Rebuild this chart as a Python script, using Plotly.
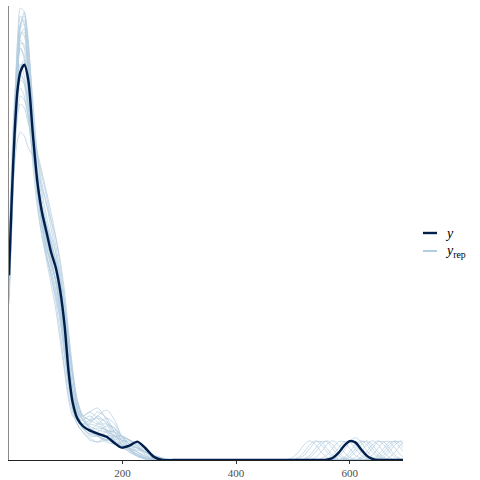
import plotly.graph_objects as go

# ---------------- data ----------------
x_main = [0, 5, 10, 15, 20, 27, 34, 42, 50, 58, 66, 74, 82, 90, 98, 105, 112,
          120, 130, 142, 156, 172, 186, 198, 212, 226, 240, 255, 270, 290, 310]
x_far = [480, 490, 500, 510, 520, 530, 540, 550, 560, 570, 580, 590, 600,
         610, 620, 630, 640, 650, 660, 670, 680, 690, 700]

y_main = [4.62, 6.6, 8.2, 9.25, 9.7, 9.88, 9.5, 8.15, 6.95, 6.2, 5.7, 5.2, 4.83,
          4.25, 3.35, 2.2, 1.45, 1.05, 0.85, 0.74, 0.66, 0.58, 0.42, 0.31, 0.36,
          0.46, 0.3, 0.08, 0.0, 0.0, 0.0]
y_far = [0, 0, 0, 0, 0, 0, 0, 0, 0.01, 0.05, 0.17, 0.35, 0.47, 0.44, 0.27,
         0.11, 0.03, 0, 0, 0, 0, 0, 0]

yrep_main = [
    [4.4, 6.7, 8.8, 10.5, 11.3, 11.2, 10.2, 8.4, 6.9, 6.0, 5.5, 5.0, 4.5, 3.8, 2.9, 2.0, 1.3, 0.9, 0.7, 0.55, 0.45, 0.6, 0.75, 0.6, 0.3, 0.15, 0.05, 0, 0, 0, 0],
    [4.4, 6.4, 8.3, 9.9, 10.8, 10.9, 10.0, 8.3, 6.8, 5.9, 5.3, 4.9, 4.5, 4.0, 3.2, 2.3, 1.5, 1.0, 0.8, 0.9, 1.1, 0.9, 0.5, 0.3, 0.3, 0.2, 0.05, 0, 0, 0, 0],
    [4.8, 6.4, 7.4, 8.0, 8.2, 8.1, 7.8, 7.6, 7.2, 6.8, 6.4, 6.0, 5.6, 5.0, 4.2, 3.2, 2.3, 1.5, 1.0, 0.8, 0.6, 0.5, 0.55, 0.6, 0.5, 0.3, 0.12, 0.02, 0, 0, 0],
    [4.5, 6.8, 8.6, 9.8, 10.3, 10.1, 9.2, 7.9, 6.7, 6.0, 5.6, 5.3, 4.9, 4.2, 3.3, 2.4, 1.6, 1.1, 0.9, 1.0, 1.2, 1.05, 0.7, 0.4, 0.25, 0.15, 0.05, 0, 0, 0, 0],
    [4.3, 6.3, 8.2, 9.7, 10.6, 10.7, 9.8, 7.9, 6.5, 5.6, 5.0, 4.4, 3.8, 3.0, 2.2, 1.5, 1.1, 1.0, 1.0, 1.1, 0.95, 0.7, 0.45, 0.35, 0.35, 0.3, 0.2, 0.12, 0.05, 0.01, 0],
    [5.0, 7.2, 8.8, 9.6, 9.9, 9.6, 8.9, 7.8, 6.9, 6.3, 5.9, 5.4, 4.8, 4.0, 3.1, 2.3, 1.6, 1.2, 1.0, 0.8, 0.6, 0.45, 0.4, 0.45, 0.5, 0.4, 0.2, 0.05, 0, 0, 0],
    [4.0, 6.0, 8.0, 9.6, 10.9, 11.0, 10.3, 9.0, 7.6, 6.7, 6.1, 5.6, 5.2, 4.6, 3.9, 3.0, 2.1, 1.3, 0.8, 0.6, 0.6, 0.7, 0.7, 0.5, 0.3, 0.1, 0.02, 0, 0, 0, 0],
    [4.6, 6.6, 8.1, 9.2, 9.6, 9.5, 8.9, 8.4, 7.6, 6.9, 6.4, 5.8, 5.2, 4.5, 3.7, 2.9, 2.1, 1.4, 1.1, 1.2, 1.3, 1.0, 0.6, 0.35, 0.2, 0.1, 0.05, 0.01, 0, 0, 0],
    [4.0, 5.9, 7.8, 9.4, 10.6, 10.8, 9.8, 8.1, 6.7, 5.8, 5.1, 4.6, 4.0, 3.2, 2.3, 1.6, 1.2, 0.9, 0.7, 0.5, 0.45, 0.5, 0.6, 0.6, 0.5, 0.35, 0.2, 0.08, 0.02, 0, 0],
    [4.9, 7.0, 8.4, 9.1, 9.3, 9.1, 8.5, 7.6, 6.8, 6.2, 5.8, 5.4, 5.0, 4.4, 3.5, 2.6, 1.8, 1.3, 1.0, 0.85, 0.75, 0.7, 0.6, 0.45, 0.25, 0.1, 0.03, 0, 0, 0, 0],
    [4.5, 6.6, 8.5, 10.0, 10.9, 11.1, 10.4, 8.8, 7.2, 6.1, 5.4, 4.8, 4.3, 3.6, 2.8, 2.1, 1.5, 1.1, 0.9, 0.9, 0.85, 0.75, 0.7, 0.6, 0.5, 0.35, 0.2, 0.08, 0.02, 0, 0],
    [4.4, 6.2, 7.8, 9.0, 9.8, 10.0, 9.5, 8.4, 7.3, 6.5, 5.9, 5.3, 4.7, 4.0, 3.2, 2.5, 1.8, 1.3, 1.0, 0.95, 1.1, 1.25, 1.0, 0.6, 0.3, 0.12, 0.04, 0, 0, 0, 0],
    [5.4, 7.6, 9.1, 10.0, 10.3, 10.0, 9.0, 7.4, 6.3, 5.6, 5.1, 4.7, 4.2, 3.5, 2.6, 1.9, 1.4, 1.1, 0.9, 0.75, 0.65, 0.55, 0.45, 0.3, 0.25, 0.25, 0.2, 0.1, 0.03, 0, 0],
    [4.1, 6.1, 8.0, 9.5, 10.4, 10.4, 9.6, 8.3, 7.1, 6.3, 5.8, 5.4, 5.0, 4.4, 3.5, 2.6, 1.8, 1.2, 0.85, 0.7, 0.6, 0.5, 0.5, 0.55, 0.5, 0.35, 0.15, 0.04, 0, 0, 0],
    [4.6, 6.4, 7.8, 8.7, 9.1, 9.0, 8.6, 8.2, 7.7, 7.2, 6.7, 6.2, 5.6, 4.9, 4.0, 3.1, 2.2, 1.5, 1.1, 1.0, 0.9, 0.9, 0.8, 0.5, 0.25, 0.1, 0.03, 0, 0, 0, 0],
    [4.5, 6.7, 8.8, 10.4, 11.1, 10.9, 9.8, 8.2, 6.8, 5.9, 5.3, 4.9, 4.5, 3.9, 3.0, 2.2, 1.5, 1.0, 0.8, 0.75, 0.9, 1.05, 0.9, 0.6, 0.4, 0.3, 0.2, 0.1, 0.03, 0, 0],
    [4.3, 6.2, 7.9, 9.0, 9.5, 9.4, 8.8, 7.9, 7.0, 6.3, 5.8, 5.3, 4.8, 4.2, 3.5, 2.8, 2.1, 1.5, 1.1, 0.8, 0.6, 0.5, 0.45, 0.4, 0.3, 0.2, 0.1, 0.03, 0, 0, 0],
    [4.2, 6.2, 8.2, 9.9, 10.7, 10.6, 9.7, 8.3, 7.0, 6.1, 5.5, 5.0, 4.5, 3.8, 2.9, 2.1, 1.5, 1.2, 1.1, 1.2, 1.05, 0.75, 0.5, 0.35, 0.3, 0.3, 0.2, 0.08, 0.01, 0, 0],
    [5.1, 7.0, 8.5, 9.4, 9.7, 9.4, 8.6, 7.6, 6.8, 6.3, 5.9, 5.5, 5.0, 4.3, 3.3, 2.4, 1.6, 1.1, 0.8, 0.65, 0.7, 0.85, 0.8, 0.6, 0.4, 0.2, 0.08, 0.02, 0, 0, 0],
    [4.2, 6.3, 8.3, 9.9, 10.5, 10.3, 9.4, 8.1, 7.0, 6.3, 5.7, 5.1, 4.5, 3.7, 2.8, 2.0, 1.4, 1.0, 0.8, 0.75, 0.8, 0.75, 0.6, 0.5, 0.45, 0.4, 0.25, 0.1, 0.02, 0, 0],
    [4.1, 6.0, 7.6, 8.6, 8.9, 8.8, 8.4, 8.1, 7.6, 7.1, 6.6, 6.0, 5.4, 4.7, 3.8, 2.9, 2.1, 1.4, 1.1, 1.0, 1.05, 0.95, 0.7, 0.4, 0.2, 0.1, 0.05, 0.01, 0, 0, 0],
    [3.9, 5.8, 7.7, 9.3, 10.8, 11.2, 10.5, 8.5, 6.9, 5.9, 5.2, 4.6, 4.1, 3.5, 2.6, 1.8, 1.3, 1.0, 0.8, 0.65, 0.6, 0.6, 0.6, 0.5, 0.4, 0.3, 0.2, 0.12, 0.05, 0.01, 0],
]

yrep_far = [
    [0, 0, 0.01, 0.065, 0.2, 0.385, 0.48, 0.385, 0.2, 0.065, 0.01, 0, 0, 0, 0, 0, 0, 0, 0, 0, 0, 0, 0],
    [0, 0, 0, 0, 0, 0, 0, 0, 0, 0, 0, 0.03, 0.12, 0.29, 0.455, 0.455, 0.29, 0.12, 0.03, 0, 0, 0, 0],
    [0, 0, 0, 0, 0, 0, 0, 0, 0, 0, 0, 0, 0, 0, 0, 0, 0, 0.01, 0.065, 0.2, 0.385, 0.48, 0.385],
    [0, 0, 0, 0, 0, 0.01, 0.065, 0.2, 0.385, 0.48, 0.385, 0.2, 0.065, 0.01, 0, 0, 0, 0, 0, 0, 0, 0, 0],
    [0, 0, 0, 0, 0, 0, 0, 0, 0, 0, 0, 0, 0, 0, 0.03, 0.12, 0.29, 0.455, 0.455, 0.29, 0.12, 0.03, 0],
    [0, 0, 0, 0, 0, 0, 0, 0, 0.03, 0.12, 0.29, 0.455, 0.455, 0.29, 0.12, 0.03, 0, 0, 0, 0, 0, 0, 0],
    [0, 0, 0, 0, 0, 0, 0, 0, 0, 0, 0, 0, 0, 0, 0, 0, 0.01, 0.065, 0.2, 0.385, 0.48, 0.385, 0.2],
    [0, 0, 0, 0.03, 0.12, 0.29, 0.455, 0.455, 0.29, 0.12, 0.03, 0, 0, 0, 0, 0, 0, 0, 0, 0, 0, 0, 0],
    [0, 0, 0, 0, 0, 0, 0, 0, 0, 0, 0, 0, 0.01, 0.065, 0.2, 0.385, 0.48, 0.385, 0.2, 0.065, 0.01, 0, 0],
    [0, 0, 0, 0, 0, 0, 0, 0, 0, 0.015, 0.08, 0.24, 0.45, 0.56, 0.45, 0.24, 0.08, 0.015, 0, 0, 0, 0, 0],
    [0, 0, 0, 0, 0, 0, 0, 0, 0, 0, 0, 0, 0, 0, 0, 0.03, 0.12, 0.29, 0.455, 0.455, 0.29, 0.12, 0.03],
    [0, 0.01, 0.065, 0.2, 0.385, 0.48, 0.385, 0.2, 0.065, 0.01, 0, 0, 0, 0, 0, 0, 0, 0, 0, 0, 0, 0, 0],
    [0, 0, 0, 0, 0, 0, 0, 0, 0, 0, 0, 0, 0, 0, 0, 0, 0, 0, 0.01, 0.065, 0.2, 0.385, 0.48],
    [0, 0, 0, 0, 0, 0, 0, 0.03, 0.12, 0.29, 0.455, 0.455, 0.29, 0.12, 0.03, 0, 0, 0, 0, 0, 0, 0, 0],
    [0, 0, 0, 0, 0, 0, 0, 0, 0, 0, 0.01, 0.065, 0.2, 0.385, 0.48, 0.385, 0.2, 0.065, 0.01, 0, 0, 0, 0],
    [0, 0, 0, 0, 0.01, 0.065, 0.2, 0.385, 0.48, 0.385, 0.2, 0.065, 0.01, 0, 0, 0, 0, 0, 0, 0, 0, 0, 0],
    [0, 0, 0, 0, 0, 0, 0, 0, 0, 0, 0, 0, 0, 0, 0, 0, 0.03, 0.12, 0.29, 0.455, 0.455, 0.29, 0.12],
    [0, 0, 0, 0, 0, 0, 0, 0, 0, 0, 0, 0, 0, 0.01, 0.065, 0.2, 0.385, 0.48, 0.385, 0.2, 0.065, 0.01, 0],
    [0, 0, 0, 0, 0.03, 0.12, 0.29, 0.455, 0.455, 0.29, 0.12, 0.03, 0, 0, 0, 0, 0, 0, 0, 0, 0, 0, 0],
    [0, 0, 0, 0, 0, 0, 0, 0, 0, 0, 0, 0.01, 0.065, 0.2, 0.385, 0.48, 0.385, 0.2, 0.065, 0.01, 0, 0, 0],
    [0, 0, 0, 0, 0, 0, 0, 0, 0.01, 0.065, 0.2, 0.385, 0.48, 0.385, 0.2, 0.065, 0.01, 0, 0, 0, 0, 0, 0],
    [0, 0, 0, 0, 0, 0, 0, 0, 0, 0, 0, 0, 0, 0, 0, 0, 0, 0.03, 0.12, 0.29, 0.455, 0.455, 0.29],
]

x_ticks = [200, 400, 600]
x_tick_labels = ["200", "400", "600"]
legend_labels = ["<i>y</i>", "<i>y</i><sub>rep</sub>"]

# ---------------- figure ----------------
DARK = "#011f4b"
LIGHT = "#b3cde0"
x_all = x_main + x_far

fig = go.Figure()
for main, far in zip(yrep_main, yrep_far):
    fig.add_trace(go.Scatter(
        x=x_all, y=main + far, mode="lines",
        line=dict(color=LIGHT, width=0.9, shape="spline", smoothing=0.7),
        opacity=0.8, showlegend=False, hoverinfo="skip"))

fig.add_trace(go.Scatter(
    x=x_all, y=y_main + y_far, mode="lines",
    line=dict(color=DARK, width=2.4, shape="spline", smoothing=0.7),
    showlegend=False, hoverinfo="skip"))

L, R, T, B = 9, 77, 6, 20
PW, PH = 480 - L - R, 480 - T - B


def px_x(p):
    return (p - L) / PW


def px_y(p):
    return (480 - B - p) / PH


# manual legend
legend_rows = [(233, DARK, 2.4), (251, LIGHT, 2.0)]
for (py, col, w), lab in zip(legend_rows, legend_labels):
    fig.add_shape(type="line", xref="paper", yref="paper",
                  x0=px_x(423), x1=px_x(437), y0=px_y(py), y1=px_y(py),
                  line=dict(color=col, width=w))
    fig.add_annotation(xref="paper", yref="paper", x=px_x(443), y=px_y(py),
                       xanchor="left", yanchor="middle", text=lab,
                       showarrow=False,
                       font=dict(family="Liberation Serif", size=14, color="#000"))

fig.update_layout(
    width=480, height=480,
    margin=dict(l=L, r=R, t=T, b=B, autoexpand=False),
    plot_bgcolor="white", paper_bgcolor="white",
    xaxis=dict(range=[0, 694], tickvals=x_ticks, ticktext=x_tick_labels,
               ticks="outside", ticklen=3, tickcolor="#333", tickwidth=1,
               showline=True, linecolor="#222", linewidth=1,
               showgrid=False, zeroline=False, automargin=False,
               tickfont=dict(family="Liberation Serif", size=11, color="#4d4d4d")),
    yaxis=dict(range=[0, 11.35], showticklabels=False, ticks="",
               showline=True, linecolor="#8a8a8a", linewidth=1,
               showgrid=False, zeroline=False, automargin=False),
)

fig.write_html("out.html")
